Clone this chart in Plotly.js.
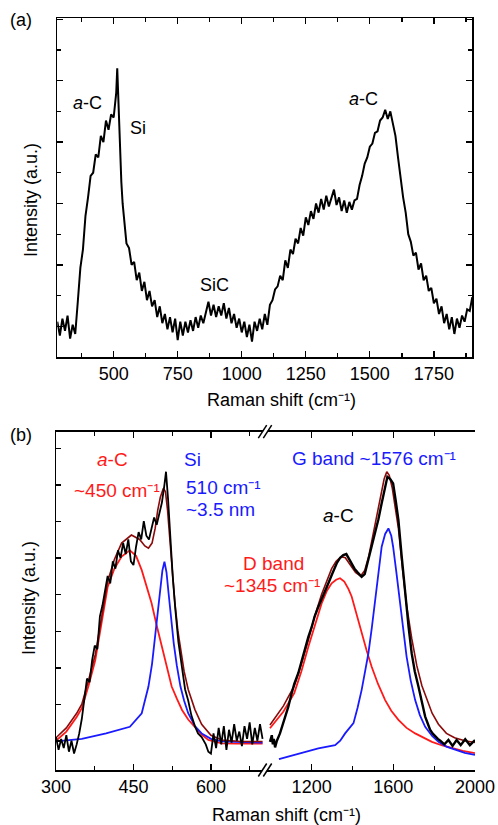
<!DOCTYPE html>
<html>
<head>
<meta charset="utf-8">
<script src="https://cdn.plot.ly/plotly-3.0.1.min.js"></script>
<style>html,body{margin:0;padding:0;background:#fff;}#chart{width:498px;height:825px;}</style>
</head>
<body>
<div id="chart"></div>
<script>
// ---------- Panel (a): measured Raman spectrum [shift, intensity a.u.] ----------
var spectrumA = [
[280,1.15],[290,0.7],[300,1.25],[310,0.85],[320,1.35],[330,0.6],[340,1.05],[350,0.75],[360,1.8],[370,2.9],
[380,3.5],[390,4.6],[400,5.2],[410,5.9],[420,6.0],[430,6.6],[440,6.5],[450,7.2],[460,7.0],[470,7.7],
[480,7.4],[490,7.9],[500,7.8],[505,8.3],[510,8.6],[514,9.4],[518,8.4],[522,7.2],[526,6.3],[530,5.7],
[535,5.0],[540,4.5],[545,4.1],[550,3.7],[560,3.55],[570,3.0],[580,3.1],[590,2.5],[600,2.75],[610,2.15],
[620,2.45],[630,1.85],[640,2.15],[650,1.65],[660,1.85],[670,1.3],[680,1.65],[690,1.1],[700,1.4],[710,0.9],
[720,1.3],[730,0.8],[740,1.25],[750,0.55],[760,1.15],[770,0.7],[780,1.15],[790,0.8],[800,1.2],[810,0.85],
[820,1.3],[830,0.95],[840,1.35],[850,1.1],[860,1.45],[870,1.8],[880,1.35],[890,1.7],[900,1.3],[910,1.65],
[920,1.35],[930,1.75],[940,1.25],[950,1.6],[960,1.1],[970,1.4],[980,0.95],[990,1.25],[1000,0.8],[1010,1.15],
[1020,0.65],[1030,1.05],[1040,0.5],[1050,1.15],[1060,0.85],[1070,1.25],[1080,0.9],[1090,1.4],[1100,1.05],[1110,1.7],
[1120,1.85],[1130,2.2],[1140,2.3],[1150,2.65],[1160,2.5],[1170,3.15],[1180,2.9],[1190,3.5],[1200,3.35],[1210,3.85],
[1220,3.7],[1230,4.2],[1240,3.95],[1250,4.55],[1260,4.3],[1270,4.75],[1280,4.5],[1290,5.0],[1300,4.7],[1310,5.15],
[1320,4.8],[1330,5.25],[1340,4.9],[1350,5.15],[1360,5.45],[1370,4.95],[1380,5.2],[1390,4.75],[1400,5.1],[1410,4.7],
[1420,5.05],[1430,4.8],[1440,5.1],[1450,5.15],[1460,5.6],[1470,5.9],[1480,6.3],[1490,6.5],[1500,6.85],[1510,6.95],
[1520,7.3],[1530,7.35],[1540,7.7],[1550,7.8],[1560,8.05],[1570,7.75],[1580,8.0],[1590,7.6],[1600,7.2],[1610,6.5],
[1620,5.8],[1630,5.2],[1640,4.7],[1650,4.0],[1660,3.75],[1670,3.3],[1680,3.4],[1690,2.85],[1700,3.05],[1710,2.5],
[1720,2.65],[1730,2.15],[1740,2.25],[1750,1.75],[1760,1.9],[1770,1.4],[1780,1.65],[1790,1.1],[1800,1.4],[1810,0.9],
[1820,1.3],[1830,0.75],[1840,1.25],[1850,0.95],[1860,1.35],[1870,1.15],[1880,1.55],[1890,1.5],[1900,1.95]
];

// ---------- Panel (b), low-shift segment ----------
var measuredLow = [
[300,0.9],[305,0.55],[310,0.85],[315,0.6],[320,0.95],[325,0.5],[330,0.8],[335,0.45],[340,0.7],[345,1.0],
[350,1.4],[355,1.9],[360,2.5],[365,2.4],[370,3.0],[375,3.4],[380,3.3],[385,4.2],[390,4.5],[395,4.9],
[400,5.3],[405,5.1],[410,5.7],[415,5.5],[420,6.0],[425,5.8],[430,6.2],[435,5.9],[440,6.3],[445,5.7],
[450,5.6],[455,6.1],[460,6.5],[465,6.3],[470,6.8],[475,6.4],[480,6.3],[485,6.6],[490,6.9],[495,6.7],
[500,7.0],[505,7.3],[510,7.8],[513,8.15],[517,7.4],[521,6.3],[526,5.3],[531,4.4],[537,3.5],[544,2.8],
[550,2.2],[556,1.9],[562,1.5],[569,1.2],[575,1.0],[582,0.9],[590,0.7],[595,0.5],[600,0.45],[605,1.0],
[610,0.6],[615,1.15],[620,0.7],[625,1.2],[630,0.55],[635,1.1],[640,0.75],[645,1.25],[650,0.8],[655,1.05],
[660,0.65],[665,1.2],[670,0.85],[675,1.3],[680,0.7],[685,1.15],[690,0.8],[695,1.25],[700,0.85]
];
var fitAC = [
[300,0.8],[320,1.05],[340,1.45],[350,1.69],[363,2.3],[376,3.0],[388,4.0],[400,5.0],[413,5.5],[427,5.83],
[443,6.0],[455,5.85],[466,5.46],[476,5.0],[485,4.56],[495,3.95],[505,3.37],[515,2.8],[524,2.28],[534,1.95],
[544,1.64],[556,1.38],[569,1.18],[582,0.97],[595,0.82],[610,0.76],[621,0.73],[650,0.72],[680,0.72],[700,0.72]
];
var fitSi = [
[300,0.78],[350,0.85],[397,1.0],[443,1.18],[466,1.55],[479,2.28],[486,2.9],[492,3.64],[497,4.3],[502,5.0],
[506,5.45],[510,5.69],[514,5.4],[518,4.83],[523,4.1],[528,3.46],[534,2.85],[541,2.28],[548,1.9],[556,1.55],
[569,1.2],[582,1.0],[600,0.85],[621,0.78],[660,0.76],[700,0.75]
];
var fitSumLow = [
[300,0.88],[320,1.15],[340,1.55],[350,1.8],[363,2.45],[376,3.15],[388,4.15],[400,5.15],[413,5.75],[427,6.2],
[446,6.42],[462,6.3],[472,6.12],[479,6.06],[486,6.2],[492,6.6],[497,7.1],[502,7.45],[508,7.7],[512,7.6],
[516,7.1],[520,6.4],[524,5.6],[530,4.6],[536,3.8],[541,3.3],[548,2.7],[556,2.2],[569,1.65],[582,1.25],
[600,0.95],[621,0.82],[660,0.78],[700,0.78]
];

// ---------- Panel (b), high-shift segment ----------
var measuredHigh = [
[996,0.77],[1005,0.95],[1010,0.7],[1015,0.85],[1021,0.62],[1030,0.8],[1045,1.0],[1060,1.25],[1075,1.5],[1086,1.73],
[1100,2.05],[1115,2.35],[1135,2.65],[1150,2.95],[1165,3.3],[1184,3.64],[1200,3.9],[1215,4.2],[1233,4.46],[1250,4.7],
[1265,4.9],[1282,5.1],[1300,5.35],[1323,5.65],[1340,5.8],[1355,5.87],[1370,5.9],[1385,5.75],[1396,5.65],[1410,5.5],
[1425,5.4],[1445,5.28],[1460,5.35],[1478,5.74],[1495,6.1],[1511,6.47],[1527,6.85],[1543,7.29],[1557,7.7],[1571,8.01],
[1585,7.95],[1599,7.83],[1612,7.35],[1625,6.83],[1640,5.9],[1658,4.83],[1675,3.9],[1690,3.19],[1705,2.7],[1723,2.28],
[1740,1.85],[1756,1.46],[1770,1.25],[1780,1.1],[1792,1.0],[1805,0.91],[1818,0.85],[1830,0.8],[1850,0.7],[1870,0.82],
[1890,0.66],[1910,0.82],[1930,0.68],[1952,0.84],[1975,0.68],[2000,0.82]
];
var fitD = [
[996,1.14],[1062,1.6],[1115,2.1],[1150,2.7],[1184,3.37],[1215,3.95],[1249,4.55],[1275,4.9],[1298,5.1],[1320,5.2],
[1339,5.24],[1360,5.15],[1380,4.95],[1396,4.74],[1420,4.25],[1445,3.73],[1470,3.25],[1494,2.82],[1525,2.35],[1560,1.91],
[1590,1.62],[1625,1.37],[1665,1.15],[1707,1.0],[1750,0.88],[1789,0.77],[1840,0.67],[1887,0.59],[1940,0.52],[2000,0.46]
];
var fitG = [
[1040,0.3],[1152,0.46],[1233,0.59],[1315,0.68],[1340,0.8],[1364,1.0],[1405,1.28],[1425,1.7],[1445,2.19],[1462,2.7],
[1478,3.19],[1495,3.9],[1511,4.64],[1527,5.4],[1543,6.1],[1560,6.45],[1576,6.6],[1590,6.4],[1599,6.1],[1615,5.4],
[1632,4.64],[1648,3.8],[1665,3.1],[1685,2.45],[1707,1.91],[1730,1.5],[1756,1.18],[1790,0.93],[1821,0.77],[1860,0.64],
[1903,0.55],[1950,0.47],[2000,0.41]
];
var fitSumHigh = [
[996,1.23],[1062,1.75],[1115,2.3],[1150,2.9],[1184,3.55],[1215,4.2],[1249,4.8],[1275,5.2],[1298,5.5],[1320,5.7],
[1345,5.83],[1365,5.8],[1390,5.6],[1415,5.4],[1440,5.3],[1460,5.45],[1480,5.85],[1500,6.4],[1520,7.0],[1540,7.6],
[1555,7.95],[1568,8.15],[1580,8.05],[1595,7.7],[1610,7.2],[1625,6.6],[1645,5.5],[1665,4.5],[1690,3.6],[1715,2.85],
[1740,2.3],[1765,1.9],[1790,1.55],[1821,1.25],[1860,1.0],[1900,0.88],[1950,0.8],[2000,0.75]
];

// tick values of the lower-right axis segment
var highMinorTicks = [1400, 1800];

var W = 498, H = 825;
function px(x){ return x / W; }
function py(y){ return 1 - y / H; }
function xs(a){ return a.map(function(p){ return p[0]; }); }
function ys(a){ return a.map(function(p){ return p[1]; }); }

var RED = '#ff1a1a', BLUE = '#1a1aff', DARKRED = '#8b0a0a', BLACK = '#000000';
var FONT = 'Liberation Sans';
var INV_CM = 'cm\u207B\u00B9';

function tr(a, xa, ya, color, w){
  return {x: xs(a), y: ys(a), xaxis: xa, yaxis: ya, type: 'scatter', mode: 'lines',
          line: {color: color, width: w}, hoverinfo: 'skip', showlegend: false};
}
function empty(xa, ya){
  return {x: [], y: [], xaxis: xa, yaxis: ya, type: 'scatter', mode: 'lines', hoverinfo: 'skip', showlegend: false};
}

var data = [
  tr(spectrumA, 'x', 'y', BLACK, 2),
  tr(fitAC, 'x2', 'y2', RED, 1.8),
  tr(fitSi, 'x2', 'y2', BLUE, 1.8),
  tr(fitSumLow, 'x2', 'y2', DARKRED, 1.6),
  tr(measuredLow, 'x2', 'y2', BLACK, 1.8),
  tr(fitD, 'x3', 'y2', RED, 1.8),
  tr(fitG, 'x3', 'y2', BLUE, 1.8),
  tr(fitSumHigh, 'x3', 'y2', DARKRED, 1.6),
  tr(measuredHigh, 'x3', 'y2', BLACK, 2.4),
  empty('x4', 'y'), empty('x5', 'y2'), empty('x6', 'y2')
];

var common = {showline: true, linecolor: '#000', linewidth: 1.5, ticks: 'inside', tickcolor: '#000',
  tickwidth: 1.3, showgrid: false, zeroline: false, tickfont: {family: FONT, size: 18, color: '#000'}};
function ax(extra){ var o = {}; for (var k in common) o[k] = common[k]; for (var k2 in extra) o[k2] = extra[k2]; return o; }

var splitX = px(266.7);
var dTop = [px(57.3), px(472.3)], dLow = [px(56), splitX], dHigh = [splitX, px(475)];

var layout = {
  width: W, height: H, autosize: false,
  margin: {l: 0, r: 0, t: 0, b: 0},
  paper_bgcolor: '#fff', plot_bgcolor: 'rgba(0,0,0,0)',
  showlegend: false,
  font: {family: FONT, size: 18, color: '#000'},
  xaxis: ax({domain: dTop, range: [280, 1900], anchor: 'y', mirror: 'ticks', tick0: 0, dtick: 250, ticklen: 6}),
  yaxis: ax({domain: [py(357), py(18)], range: [0, 11.04], anchor: 'x', mirror: 'ticks',
    tick0: 1, dtick: 2, ticklen: 6, showticklabels: false,
    minor: {dtick: 1, ticklen: 4, ticks: 'inside', tickcolor: '#000', tickwidth: 1.3}}),
  xaxis2: ax({domain: dLow, range: [300, 708], anchor: 'y2', mirror: 'ticks', tick0: 0, dtick: 150, ticklen: 6}),
  xaxis3: ax({domain: dHigh, range: [980, 2000], anchor: 'y2', mirror: 'ticks', tick0: 0, dtick: 400, ticklen: 6}),
  yaxis2: ax({domain: [py(770), py(431.7)], range: [0, 9.243], anchor: 'x2',
    tick0: 0.79, dtick: 1, ticklen: 5, showticklabels: false}),
  yaxis3: ax({domain: [py(770), py(431.7)], range: [0, 9.243], anchor: 'x3', overlaying: 'y2', side: 'right',
    tick0: 0.79, dtick: 1, ticklen: 5, showticklabels: false}),
  xaxis4: ax({domain: dTop, range: [280, 1900], anchor: 'y', overlaying: 'x', mirror: 'ticks',
    tick0: 0, dtick: 125, ticklen: 4, showticklabels: false}),
  xaxis5: ax({domain: dLow, range: [300, 708], anchor: 'y2', overlaying: 'x2', mirror: 'ticks',
    tick0: 0, dtick: 75, ticklen: 4, showticklabels: false}),
  xaxis6: ax({domain: dHigh, range: [980, 2000], anchor: 'y2', overlaying: 'x3', mirror: 'ticks',
    tickmode: 'array', tickvals: highMinorTicks, ticklen: 4, showticklabels: false}),
  shapes: [],
  annotations: []
};

function breakMarks(yc){
  var s = [];
  s.push({type: 'path', xref: 'paper', yref: 'paper', layer: 'above',
    path: 'M ' + px(258.8) + ' ' + py(yc + 6.3) + ' L ' + px(267.2) + ' ' + py(yc - 6.3) +
          ' L ' + px(271.2) + ' ' + py(yc - 6.3) + ' L ' + px(262.8) + ' ' + py(yc + 6.3) + ' Z',
    fillcolor: '#fff', line: {width: 0}});
  s.push({type: 'line', xref: 'paper', yref: 'paper', layer: 'above', x0: px(258.3), y0: py(yc + 6.5), x1: px(266.7), y1: py(yc - 6.5), line: {color: '#000', width: 1.5}});
  s.push({type: 'line', xref: 'paper', yref: 'paper', layer: 'above', x0: px(263.3), y0: py(yc + 6.5), x1: px(271.7), y1: py(yc - 6.5), line: {color: '#000', width: 1.5}});
  return s;
}
layout.shapes = breakMarks(431.7).concat(breakMarks(770));

function note(text, x, y, color, opts){
  var a = {text: text, xref: 'paper', yref: 'paper', x: px(x), y: py(y), showarrow: false,
    xanchor: 'center', yanchor: 'middle', font: {family: FONT, size: 19, color: color || '#000'}};
  if (opts) for (var k in opts) a[k] = opts[k];
  return a;
}
var f18 = {family: FONT, size: 18, color: '#000'};
layout.annotations = [
  note('(a)', 21, 20, '#000', {font: f18}),
  note('(b)', 21, 435, '#000', {font: f18}),
  note('Raman shift (' + INV_CM + ')', 281, 400, '#000', {font: f18}),
  note('Intensity (a.u.)', 31, 200, '#000', {textangle: -90, font: f18}),
  note('Raman shift (' + INV_CM + ')', 286, 815, '#000', {font: f18}),
  note('Intensity (a.u.)', 29, 598, '#000', {textangle: -90, font: f18}),
  note('<i>a</i>-C', 87, 103, '#000', {font: f18}),
  note('Si', 138, 128, '#000', {font: f18}),
  note('SiC', 214, 285, '#000', {font: f18}),
  note('<i>a</i>-C', 363, 99, '#000', {font: f18}),
  note('<i>a</i>-C', 112, 459, RED),
  note('~450 ' + INV_CM, 117, 490, RED),
  note('Si', 192, 459, BLUE),
  note('510 ' + INV_CM, 184, 487, BLUE, {xanchor: 'left'}),
  note('~3.5 nm', 184, 509, BLUE, {xanchor: 'left'}),
  note('G band ~1576 ' + INV_CM, 374, 458, BLUE),
  note('<i>a</i>-C', 338, 515, '#000'),
  note('D band', 273, 563, RED),
  note('~1345 ' + INV_CM, 272, 585, RED)
];

Plotly.newPlot('chart', data, layout, {staticPlot: true, displayModeBar: false});
</script>
</body>
</html>
